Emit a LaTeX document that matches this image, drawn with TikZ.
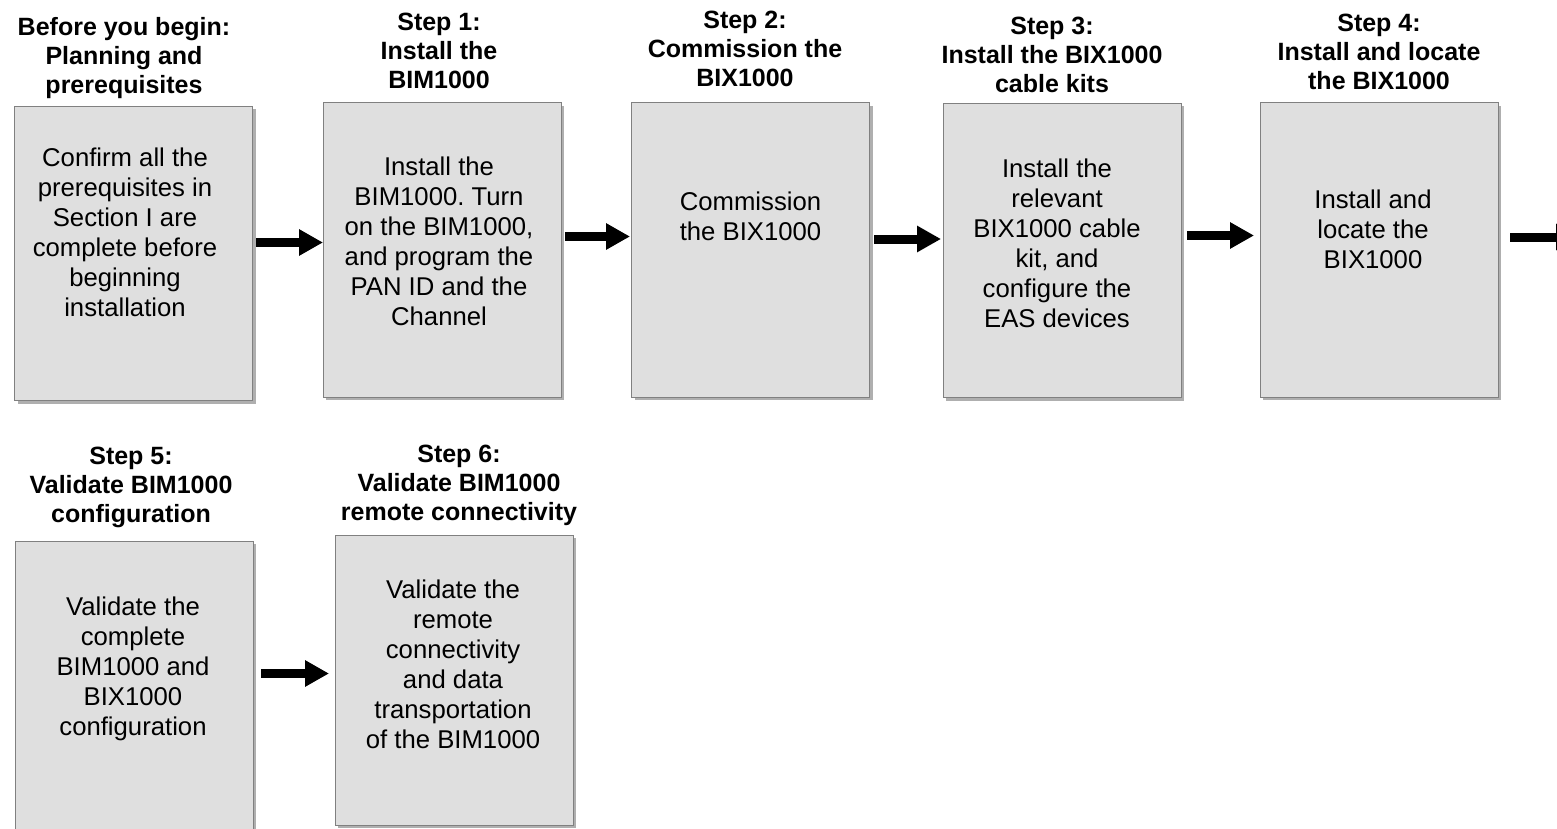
\documentclass[tikz,border=0pt]{standalone}
\usepackage{fontspec}
\setmainfont{Liberation Sans}
\frenchspacing
\usetikzlibrary{arrows.meta,shadows}
\definecolor{boxfill}{RGB}{223,223,223}
\definecolor{boxline}{RGB}{128,128,128}
\definecolor{shadowc}{RGB}{175,175,175}
\tikzset{
  stepbox/.style={draw=boxline, line width=1pt, fill=boxfill,
    minimum width=238pt, minimum height=294pt, inner sep=0pt, outer sep=0pt,
    drop shadow={shadow xshift=3pt, shadow yshift=-3pt, fill=shadowc, opacity=1}},
  bodytext/.style={anchor=north, align=center, inner sep=0pt,
    font=\fontsize{25.7}{30}\selectfont},
  titletext/.style={anchor=north, align=center, inner sep=0pt,
    font=\fontsize{25}{29}\selectfont\bfseries},
  bigarrow/.style={line width=9pt, -{Triangle[length=24pt,width=25pt]}}
}
\begin{document}
\begin{tikzpicture}[x=1pt,y=-1pt]
\useasboundingbox (0,0) rectangle (1557,829);
\clip (0,0) rectangle (1557,829);
\fill[white] (0,0) rectangle (1557,829);

% boxes
\node[stepbox] (b0) at (133.5,253.5) {};
\node[stepbox] (b1) at (442,250) {};
\node[stepbox] (b2) at (750.5,250) {};
\node[stepbox] (b3) at (1062,250.5) {};
\node[stepbox] (b4) at (1379,250) {};
\node[stepbox] (b5) at (134,688) {};
\node[stepbox, minimum height=290pt] (b6) at (454,680) {};

% titles
\node[titletext] (h0) at (124,14.7) {\strut Before you begin:\\Planning and\\prerequisites};
\node[titletext] (h1) at (439,9.7) {\strut Step 1:\\Install the\\BIM1000};
\node[titletext] (h2) at (745,7.7) {\strut Step 2:\\Commission the\\BIX1000};
\node[titletext] (h3) at (1052,13.7) {\strut Step 3:\\Install the BIX1000\\cable kits};
\node[titletext] (h4) at (1379,10.7) {\strut Step 4:\\Install and locate\\the BIX1000};
\node[titletext] (h5) at (131,443.7) {\strut Step 5:\\Validate BIM1000\\configuration};
\node[titletext] (h6) at (459,441.7) {\strut Step 6:\\Validate BIM1000\\remote connectivity};

% body texts
\node[bodytext] (t0) at (125,145) {\strut Confirm all the\\prerequisites in\\Section I are\\complete before\\beginning\\installation};
\node[bodytext] (t1) at (439,154) {\strut Install the\\BIM1000. Turn\\on the BIM1000,\\and program the\\PAN ID and the\\Channel};
\node[bodytext] (t2) at (750.5,189) {\strut Commission\\the BIX1000};
\node[bodytext] (t3) at (1057,156) {\strut Install the\\relevant\\BIX1000 cable\\kit, and\\configure the\\EAS devices};
\node[bodytext] (t4) at (1373,187) {\strut Install and\\locate the\\BIX1000};
\node[bodytext] (t5) at (133,594) {\strut Validate the\\complete\\BIM1000 and\\BIX1000\\configuration};
\node[bodytext] (t6) at (453,577) {\strut Validate the\\remote\\connectivity\\and data\\transportation\\of the BIM1000};

% arrows
\coordinate (offright) at (1580,237);
\draw[bigarrow] ([xshift=3.5pt,yshift=11pt]b0.east) -- ([yshift=7.5pt]b1.west);
\draw[bigarrow] ([xshift=4pt,yshift=13.5pt]b1.east) -- ([xshift=-1.5pt,yshift=13.5pt]b2.west);
\draw[bigarrow] ([xshift=4.5pt,yshift=11pt]b2.east) -- ([xshift=-2pt,yshift=11.5pt]b3.west);
\draw[bigarrow] ([xshift=6pt,yshift=15pt]b3.east) -- ([xshift=-6pt,yshift=14.5pt]b4.west);
\draw[bigarrow] ([xshift=12pt,yshift=13pt]b4.east) -- (offright);
\draw[bigarrow] ([xshift=8pt,yshift=14.5pt]b5.east) -- ([xshift=-6pt,yshift=6.5pt]b6.west);
\end{tikzpicture}
\end{document}
